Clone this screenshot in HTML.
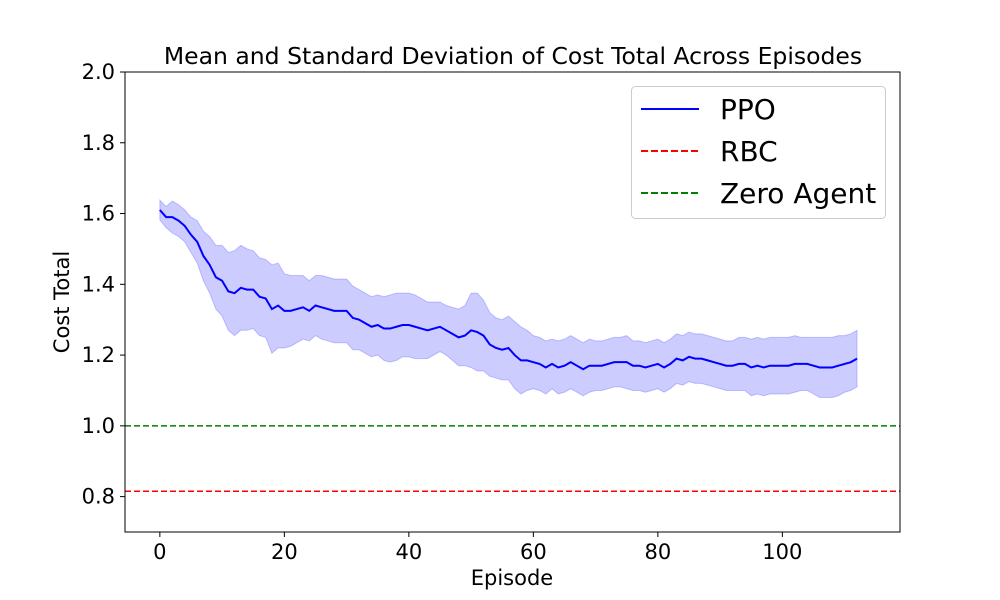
<!DOCTYPE html>
<html><head><meta charset="utf-8"><style>
body{margin:0;background:#fff;}
svg{display:block;font-family:"DejaVu Sans","Liberation Sans",sans-serif;}
</style></head><body>
<svg id="chart" width="1000" height="600">
<rect x="0" y="0" width="1000" height="600" fill="#fff"/>
<g id="plot"></g>
<text x="513" y="64" font-size="23.5" text-anchor="middle">Mean and Standard Deviation of Cost Total Across Episodes</text>
<text x="512" y="585" font-size="21" text-anchor="middle">Episode</text>
<text transform="translate(69,302) rotate(-90)" font-size="21" text-anchor="middle">Cost Total</text>
<g>
<rect x="631.5" y="86.5" width="254" height="132" rx="4" fill="#fff" fill-opacity="0.8" stroke="#ccc"/>
<line x1="641" y1="109" x2="699" y2="109" stroke="#0000ff" stroke-width="2"/>
<text x="720" y="119" font-size="28">PPO</text>
<line x1="641" y1="151" x2="699" y2="151" stroke="#ff0000" stroke-width="2" stroke-dasharray="7,3"/>
<text x="720" y="161" font-size="28">RBC</text>
<line x1="641" y1="193" x2="699" y2="193" stroke="#008000" stroke-width="2" stroke-dasharray="7,3"/>
<text x="720" y="203" font-size="28">Zero Agent</text>
</g>
</svg>
<script>
const meanVals=[1.61,1.59,1.59,1.58,1.565,1.54,1.52,1.48,1.455,1.42,1.41,1.38,1.375,1.39,1.385,1.385,1.365,1.36,1.33,1.34,1.325,1.325,1.33,1.335,1.325,1.34,1.335,1.33,1.325,1.325,1.325,1.305,1.30,1.29,1.28,1.285,1.275,1.275,1.28,1.285,1.285,1.28,1.275,1.27,1.275,1.28,1.27,1.26,1.25,1.255,1.27,1.265,1.255,1.23,1.22,1.215,1.22,1.20,1.185,1.185,1.18,1.175,1.165,1.175,1.165,1.17,1.18,1.17,1.16,1.17,1.17,1.17,1.175,1.18,1.18,1.18,1.17,1.17,1.165,1.17,1.175,1.165,1.175,1.19,1.185,1.195,1.19,1.19,1.185,1.18,1.175,1.17,1.17,1.175,1.175,1.165,1.17,1.165,1.17,1.17,1.17,1.17,1.175,1.175,1.175,1.17,1.165,1.165,1.165,1.17,1.175,1.18,1.19];
const stdVals=[0.028,0.03,0.045,0.045,0.045,0.05,0.06,0.07,0.08,0.09,0.10,0.11,0.12,0.12,0.115,0.11,0.11,0.11,0.125,0.12,0.105,0.10,0.095,0.09,0.085,0.085,0.09,0.09,0.09,0.09,0.09,0.09,0.085,0.085,0.085,0.085,0.09,0.095,0.095,0.09,0.09,0.09,0.085,0.08,0.075,0.07,0.07,0.075,0.08,0.085,0.105,0.11,0.10,0.09,0.085,0.085,0.09,0.095,0.095,0.085,0.075,0.075,0.075,0.07,0.075,0.075,0.075,0.075,0.075,0.075,0.07,0.07,0.07,0.07,0.07,0.075,0.07,0.07,0.07,0.07,0.07,0.07,0.07,0.07,0.07,0.07,0.07,0.07,0.07,0.07,0.07,0.07,0.07,0.075,0.075,0.08,0.08,0.08,0.08,0.08,0.08,0.08,0.08,0.075,0.075,0.08,0.085,0.085,0.085,0.085,0.08,0.08,0.08];
const rbcVal=0.815;
const zeroVal=1.0;
const xTicks=[0,20,40,60,80,100];
const yTicks=[0.8,1.0,1.2,1.4,1.6,1.8,2.0];
const L=125,R=900,T=72,B=532;
const xMin=-5.6,xMax=118.9,yMin=0.7,yMax=2.0;
const X=v=>L+(v-xMin)/(xMax-xMin)*(R-L);
const Y=v=>B-(v-yMin)/(yMax-yMin)*(B-T);
const NS="http://www.w3.org/2000/svg";
const g=document.getElementById('plot');
function mk(t,a){const e=document.createElementNS(NS,t);for(const k in a)e.setAttribute(k,a[k]);g.appendChild(e);return e;}
let up=meanVals.map((m,i)=>X(i)+','+Y(m+stdVals[i]));
let lo=meanVals.map((m,i)=>X(i)+','+Y(m-stdVals[i])).reverse();
const band=mk('polygon',{points:up.concat(lo).join(' '),fill:'#0000ff','fill-opacity':0.2,stroke:'#0000ff','stroke-opacity':0.2});


const line=mk('polyline',{points:meanVals.map((m,i)=>X(i)+','+Y(m)).join(' '),fill:'none',stroke:'#0000ff','stroke-width':2});


const rl=mk('line',{x1:L,x2:R,y1:Y(rbcVal),y2:Y(rbcVal),stroke:'#ff0000','stroke-width':1.5,'stroke-dasharray':'6,3'});


const zl=mk('line',{x1:L,x2:R,y1:Y(zeroVal),y2:Y(zeroVal),stroke:'#008000','stroke-width':1.5,'stroke-dasharray':'6,3'});


const fr=mk('rect',{x:L,y:T,width:R-L,height:B-T,fill:'none',stroke:'#000','stroke-width':1});


xTicks.forEach(v=>{
 const t=mk('line',{x1:X(v),x2:X(v),y1:B,y2:B+5,stroke:'#000'});
 
 
 const s=mk('text',{x:X(v),y:B+27,'font-size':21,'text-anchor':'middle'});s.textContent=v;
 
 
});
yTicks.forEach(v=>{
 const t=mk('line',{x1:L-5,x2:L,y1:Y(v),y2:Y(v),stroke:'#000'});
 
 
 const s=mk('text',{x:L-10,y:Y(v)+7,'font-size':21,'text-anchor':'end'});s.textContent=v.toFixed(1);
 
 
});
</script>
</body></html>
